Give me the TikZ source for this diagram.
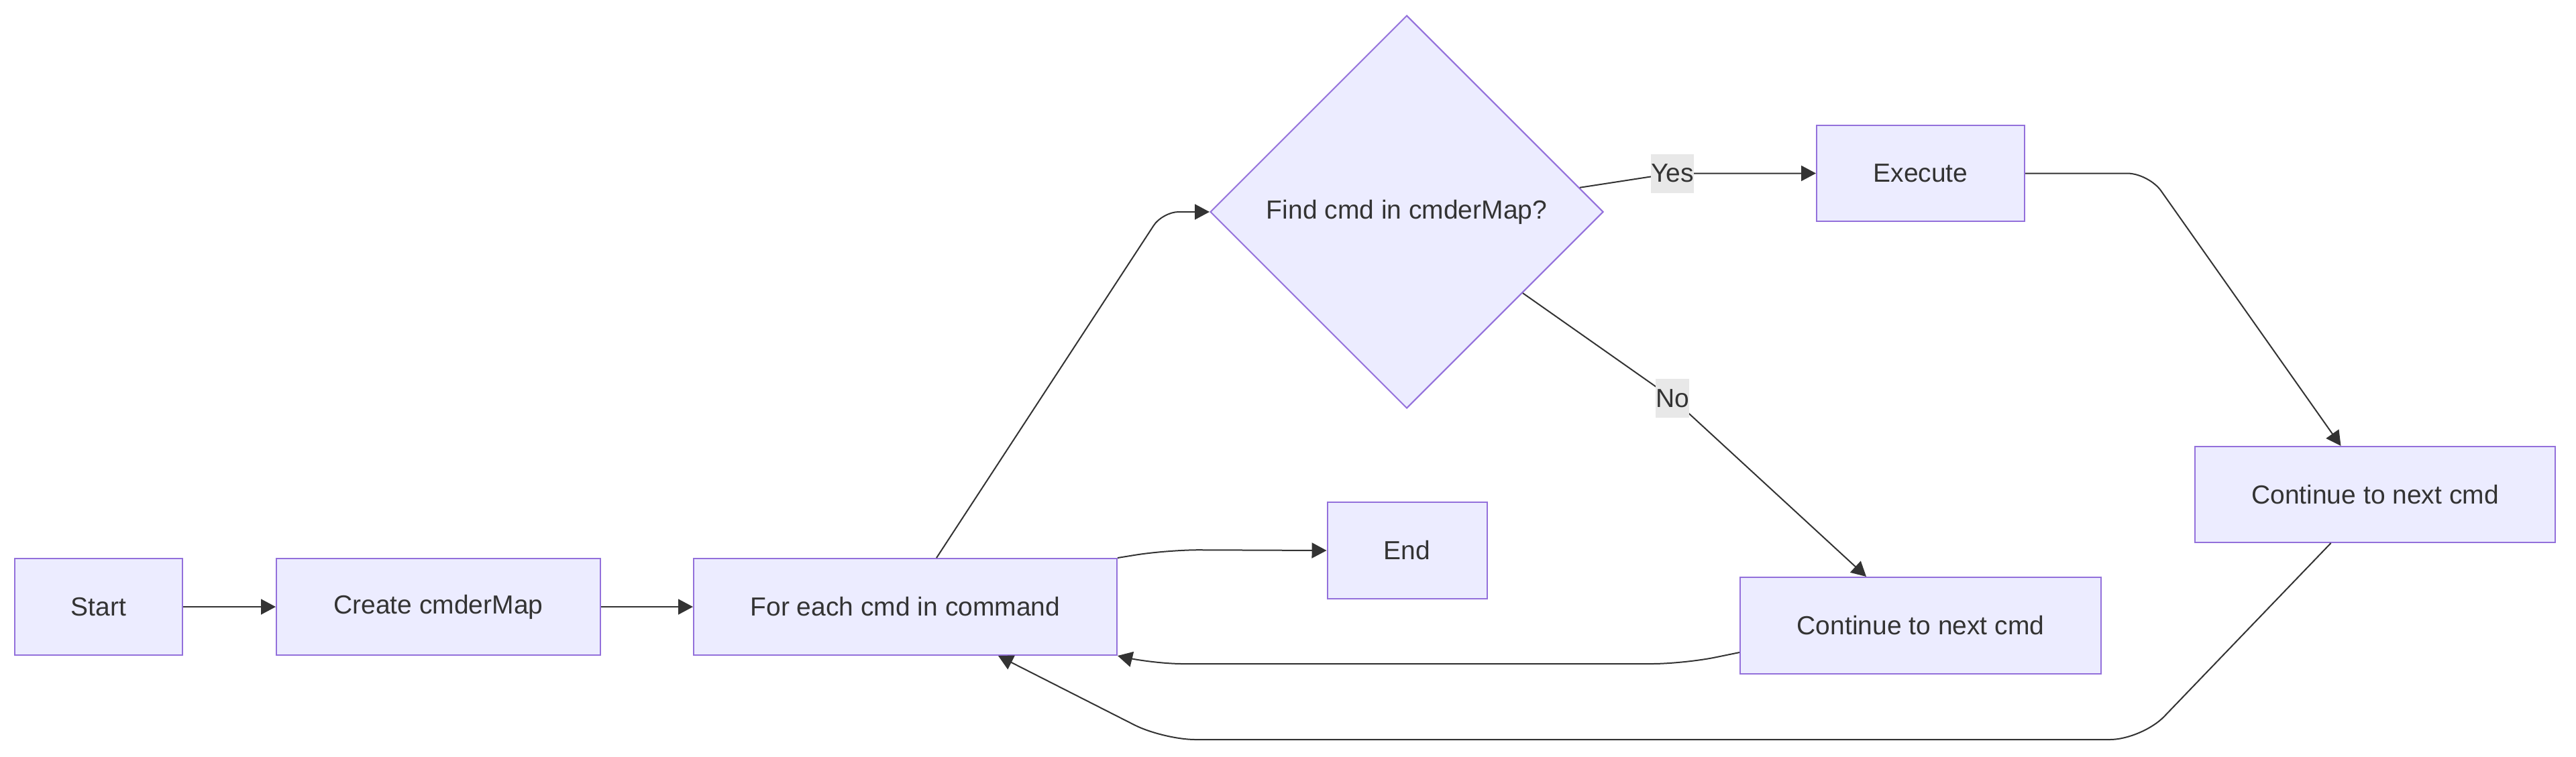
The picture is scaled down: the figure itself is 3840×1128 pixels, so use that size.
\documentclass[tikz,border=0pt]{standalone}
\usepackage{fontspec}
\setmainfont{Liberation Sans}
\usetikzlibrary{arrows.meta,shapes.geometric,calc}
\definecolor{nodefill}{HTML}{ECECFF}
\definecolor{nodeline}{HTML}{9370DB}
\definecolor{edgeline}{HTML}{333333}
\definecolor{lblbg}{HTML}{E8E8E8}
\begin{document}
\begin{tikzpicture}[x=0.25pt,y=-0.25pt,
  box/.style={draw=nodeline, fill=nodefill, line width=0.5pt, minimum height=36pt,
    inner sep=0pt, text=edgeline, font=\fontsize{9.75pt}{11.7pt}\selectfont},
  dec/.style={box, shape=diamond, aspect=1, minimum width=146.5pt, minimum height=146.5pt},
  edge/.style={draw=edgeline, line width=0.5pt, -{Triangle[length=5.5pt,width=5.75pt]}},
  lbl/.style={fill=lblbg, text=edgeline, inner xsep=0pt, inner ysep=0pt,
    minimum height=14.5pt, font=\fontsize{9.75pt}{11.7pt}\selectfont}
]
\fill[white] (0,0) rectangle (3840,1128);
\useasboundingbox (0,0) rectangle (3840,1128);

\node[box, minimum width=62.5pt] (start) at (147,905) {Start};
\node[box, minimum width=120.75pt] (create) at (653.5,905) {Create cmderMap};
\node[box, minimum width=157.75pt] (foreach) at (1349.5,905) {For each cmd in command};
\node[dec] (find) at (2097,316) {Find cmd in cmderMap?};
\node[box, minimum width=77.5pt, minimum height=35.75pt] (exec) at (2863,258.5) {Execute};
\node[box, minimum width=59.5pt] (endn) at (2097.5,821) {End};
\node[box, minimum width=134.5pt] (cont1) at (2863,933) {Continue to next cmd};
\node[box, minimum width=134.25pt, minimum height=35.75pt] (cont2) at (3540.5,737.5) {Continue to next cmd};

\coordinate (c1) at (1733,316);
\coordinate (yespt) at (2493,258.5);
\coordinate (nopt) at (2493,594);
\coordinate (c2) at (3203,258.5);
\coordinate (c3) at (3193,1103);
\coordinate (c4) at (1734,1103);
\coordinate (c5) at (2510,990);
\coordinate (c6) at (1715,990);
\coordinate (c7) at (1740,820);

\draw[edge] (start.east) -- (create.west);
\draw[edge] (create.east) -- (foreach.west);
\draw[edge, rounded corners=6pt] ($(foreach.north)+(46.5,0)$) -- (c1) -- (find.west);
\draw[edge, rounded corners=5pt] (find.8) -- (yespt) -- (exec.west);
\draw[edge, rounded corners=5pt] (find.-35) -- (nopt) -- ($(cont1.north)+(-81,0)$);
\draw[edge, rounded corners=8pt] (exec.east) -- (c2) -- ($(cont2.north)+(-51,0)$);
\draw[edge, rounded corners=12pt] ($(cont2.south)+(-66,0)$) -- (c3) -- (c4) -- ($(foreach.south)+(138.5,0)$);
\draw[edge, rounded corners=12pt] ($(cont1.west)+(0,40)$) -- (c5) -- (c6) -- (foreach.south east);
\draw[edge, rounded corners=12pt] (foreach.north east) -- (c7) -- (endn.west);

\node[lbl] (yes) at (yespt) {Yes};
\node[lbl] (no) at (nopt) {No};
\end{tikzpicture}
\end{document}
